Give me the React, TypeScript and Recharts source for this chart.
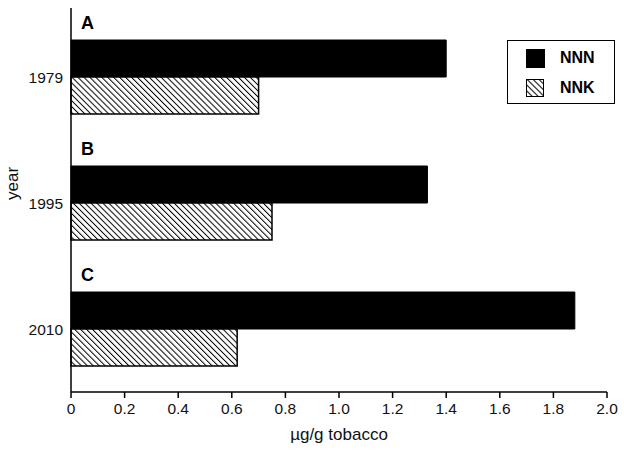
import React from 'react'
import { BarChart, Bar, XAxis, YAxis, Legend, LabelList } from 'recharts'

const YEARS = ['1979', '1995', '2010']
const PANELS = ['A', 'B', 'C']
const NNN = [1.4, 1.33, 1.88]
const NNK = [0.7, 0.75, 0.62]
const X_TICKS = [0, 0.2, 0.4, 0.6, 0.8, 1.0, 1.2, 1.4, 1.6, 1.8, 2.0]

const data = YEARS.map((year, i) => ({ year, panel: PANELS[i], NNN: NNN[i], NNK: NNK[i] }))

const FONT = 'Liberation Sans, Arial, sans-serif'

// letter above each group
const PanelLabel = (props: any) => {
    const { x, y, value } = props
    return (
        <text x={x + 10} y={y - 11} fontSize={18} fontWeight="bold" fontFamily={FONT} fill="#000">
            {value}
        </text>
    )
}

const LegendBox = () => (
    <div
        style={{
            border: '1.5px solid #000',
            width: 108,
            height: 64,
            boxSizing: 'border-box',
            padding: '7px 0 0 18px',
            fontFamily: FONT,
            fontWeight: 'bold',
            fontSize: 16,
            background: '#fff',
        }}
    >
        <div style={{ display: 'flex', alignItems: 'center', height: 20, marginBottom: 10 }}>
            <div style={{ width: 19, height: 19, background: '#000' }} />
            <span style={{ marginLeft: 15 }}>NNN</span>
        </div>
        <div style={{ display: 'flex', alignItems: 'center', height: 20 }}>
            <svg width={18} height={18}>
                <rect x={0.5} y={0.5} width={17} height={17} fill="url(#hatch)" stroke="#000" />
            </svg>
            <span style={{ marginLeft: 16 }}>NNK</span>
        </div>
    </div>
)

export default function App() {
    return (
        <div style={{ position: 'absolute', left: 0, top: 0, width: 624, height: 454, background: '#fff' }}>
            <BarChart
                width={624}
                height={454}
                data={data}
                layout="vertical"
                margin={{ top: 8, right: 17, bottom: 12, left: 15 }}
                barCategoryGap={26}
                barGap={0}
            >
                <defs>
                    <pattern id="hatch" width={4.2} height={4.2} patternUnits="userSpaceOnUse" patternTransform="rotate(-45)">
                        <rect width={4.2} height={4.2} fill="#fff" />
                        <line x1={0} y1={0} x2={0} y2={4.2} stroke="#000" strokeWidth={2} />
                    </pattern>
                </defs>
                <XAxis
                    type="number"
                    domain={[0, 2]}
                    ticks={X_TICKS}
                    tickFormatter={(v: number) => (v === 0 ? '0' : v.toFixed(1))}
                    height={50}
                    stroke="#000"
                    strokeWidth={1.5}
                    tickSize={6}
                    tickMargin={5}
                    tick={{ fill: '#111', fontSize: 15.5, fontFamily: FONT }}
                    label={{ value: 'µg/g tobacco', position: 'insideBottom', offset: 2, fill: '#111', fontSize: 17, fontFamily: FONT }}
                />
                <YAxis
                    type="category"
                    dataKey="year"
                    width={56}
                    padding={{ top: 6, bottom: 0 }}
                    stroke="#000"
                    strokeWidth={1.5}
                    tickLine={false}
                    tick={{ fill: '#111', fontSize: 15.5, fontFamily: FONT }}
                    label={{ value: 'year', angle: -90, position: 'insideLeft', offset: -3, fill: '#111', fontSize: 17, fontFamily: FONT }}
                />
                <Legend
                    layout="vertical"
                    verticalAlign="middle"
                    align="center"
                    content={() => <LegendBox />}
                    wrapperStyle={{ top: 40, left: 507, width: 108 }}
                />
                <Bar dataKey="NNN" fill="#000" stroke="#000" isAnimationActive={false}>
                    <LabelList dataKey="panel" content={PanelLabel} />
                </Bar>
                <Bar dataKey="NNK" fill="url(#hatch)" stroke="#000" strokeWidth={1.5} isAnimationActive={false} />
            </BarChart>
        </div>
    )
}
